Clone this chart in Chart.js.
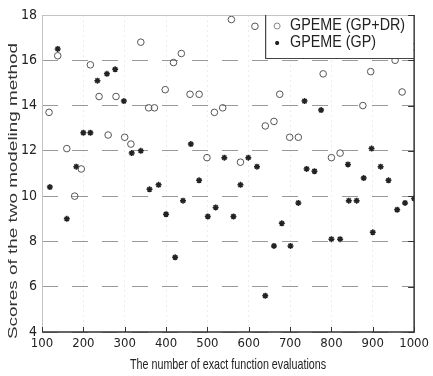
<!DOCTYPE html>
<html>
<head>
<meta charset="utf-8">
<script src="https://cdn.jsdelivr.net/npm/chart.js@4.4.0/dist/chart.umd.min.js"></script>
<style>
  body { margin: 0; background: #fff; }
  #wrap { width: 433px; height: 376px; }
</style>
</head>
<body>
<div id="wrap"><canvas id="chart-scores" width="433" height="376"></canvas></div>
<script>
// scores
var gpdrX = [117, 138, 160, 179, 195, 217, 238, 260, 279, 300, 315, 339, 358, 372, 398, 418, 437, 458, 480, 499, 517, 537, 558, 580, 615, 640, 661, 675, 699, 720, 780, 800, 821, 876, 895, 954, 971, 1000];
var gpdrY = [13.7, 16.2, 12.1, 10.0, 11.2, 15.8, 14.4, 12.7, 14.4, 12.6, 12.3, 16.8, 13.9, 13.9, 14.7, 15.9, 16.3, 14.5, 14.5, 11.7, 13.7, 13.9, 17.8, 11.5, 17.5, 13.1, 13.3, 14.5, 12.6, 12.6, 15.4, 11.7, 11.9, 14.0, 15.5, 16.0, 14.6, 16.6];

var gpX = [119, 138, 160, 183, 200, 217, 234, 257, 277, 298, 317, 339, 360, 382, 400, 422, 441, 460, 480, 501, 520, 541, 563, 580, 599, 620, 640, 661, 680, 701, 720, 735, 740, 759, 775, 800, 821, 840, 842, 861, 878, 897, 900, 919, 938, 959, 978, 1000];
var gpY = [10.4, 16.5, 9.0, 11.3, 12.8, 12.8, 15.1, 15.4, 15.6, 14.2, 11.9, 12.0, 10.3, 10.5, 9.2, 7.3, 9.8, 12.3, 10.7, 9.1, 9.5, 11.7, 9.1, 10.5, 11.7, 11.3, 5.6, 7.8, 8.8, 7.8, 9.7, 14.2, 11.2, 11.1, 13.8, 8.1, 8.1, 11.4, 9.8, 9.8, 10.8, 12.1, 8.4, 11.3, 10.7, 9.4, 9.7, 9.9];

var xTicks = [100, 200, 300, 400, 500, 600, 700, 800, 900, 1000];
var yTicks = [4, 6, 8, 10, 12, 14, 16, 18];

var seriesNames = ['GPEME (GP+DR)', 'GPEME (GP)'];
var xTitle = 'The number of exact function evaluations';
var yTitle = 'Scores of the two modeling method';

var narrow = "'DejaVu Sans Condensed', 'Liberation Sans', Arial, sans-serif";
var plain = "'Liberation Sans', Arial, sans-serif";

function toPoints(xs, ys) {
  var out = [];
  for (var i = 0; i < xs.length; i++) out.push({ x: xs[i], y: ys[i] });
  return out;
}

function drawStar(ctx, x, y, r) {
  ctx.beginPath();
  ctx.moveTo(x - r, y); ctx.lineTo(x + r, y);
  ctx.moveTo(x, y - r); ctx.lineTo(x, y + r);
  var d = r * 0.7;
  ctx.moveTo(x - d, y - d); ctx.lineTo(x + d, y + d);
  ctx.moveTo(x - d, y + d); ctx.lineTo(x + d, y - d);
  ctx.stroke();
}

// text squeezed or stretched to a given width (the scan is not square)
function fitText(ctx, txt, x, y, width, rot) {
  ctx.save();
  var w = ctx.measureText(txt).width;
  ctx.translate(x, y);
  if (rot) ctx.rotate(rot);
  ctx.scale(width / w, 1);
  ctx.fillText(txt, 0, 0);
  ctx.restore();
}

// box round the plot, matlab style ticks on right and bottom
var framePlugin = {
  id: 'frame',
  afterDatasetsDraw: function (chart) {
    var ctx = chart.ctx, a = chart.chartArea;
    var xs = chart.scales.x, ys = chart.scales.y;
    ctx.save();
    ctx.lineWidth = 1;
    ctx.strokeStyle = '#c4c4c4';
    ctx.beginPath();
    ctx.moveTo(a.left + 0.5, a.bottom);
    ctx.lineTo(a.left + 0.5, a.top + 0.5);
    ctx.lineTo(a.right, a.top + 0.5);
    ctx.stroke();

    ctx.strokeStyle = '#333';
    ctx.lineWidth = 1.5;
    ctx.beginPath();
    ctx.moveTo(a.left, a.bottom);
    ctx.lineTo(a.right, a.bottom);
    ctx.lineTo(a.right, a.top);
    ctx.stroke();

    ctx.lineWidth = 1;
    ctx.beginPath();
    yTicks.forEach(function (v) {
      var py = Math.round(ys.getPixelForValue(v)) + 0.5;
      ctx.moveTo(a.right, py); ctx.lineTo(a.right - 6, py);
    });
    xTicks.forEach(function (v) {
      var px = Math.round(xs.getPixelForValue(v)) + 0.5;
      ctx.moveTo(px, a.bottom); ctx.lineTo(px, a.bottom - 5);
    });
    ctx.stroke();
    ctx.restore();
  }
};

// legend box sitting in the top right corner of the plot
var legendPlugin = {
  id: 'boxLegend',
  afterDraw: function (chart) {
    var ctx = chart.ctx, a = chart.chartArea;
    var left = a.right - 149, top = a.top, bottom = a.top + 43;
    ctx.save();
    ctx.fillStyle = '#fff';
    ctx.fillRect(left, top + 1, a.right - left - 1, bottom - top - 1);
    ctx.strokeStyle = '#444';
    ctx.lineWidth = 1.2;
    ctx.beginPath();
    ctx.moveTo(left + 0.5, top);
    ctx.lineTo(left + 0.5, bottom + 0.5);
    ctx.lineTo(a.right, bottom + 0.5);
    ctx.stroke();

    var mx = left + 12;
    ctx.strokeStyle = '#888';
    ctx.lineWidth = 1;
    ctx.beginPath();
    ctx.arc(mx, top + 11, 3, 0, Math.PI * 2);
    ctx.stroke();
    ctx.strokeStyle = '#222';
    ctx.lineWidth = 1.4;
    drawStar(ctx, mx, top + 28, 2);

    ctx.fillStyle = '#222';
    ctx.font = '16px ' + plain;
    ctx.textBaseline = 'middle';
    ctx.textAlign = 'left';
    var sq = 115 / ctx.measureText(seriesNames[0]).width;
    fitText(ctx, seriesNames[0], left + 25, top + 11, ctx.measureText(seriesNames[0]).width * sq);
    fitText(ctx, seriesNames[1], left + 25, top + 28, ctx.measureText(seriesNames[1]).width * sq);
    ctx.restore();
  }
};

// axis titles, drawn by hand so they can be squeezed like the scan
var titlePlugin = {
  id: 'axisTitles',
  afterDraw: function (chart) {
    var ctx = chart.ctx, a = chart.chartArea;
    ctx.save();
    ctx.fillStyle = '#333';
    ctx.textAlign = 'center';
    ctx.textBaseline = 'middle';
    ctx.font = '12px ' + plain;
    fitText(ctx, yTitle, 14, 191, 296, -Math.PI / 2);
    ctx.fillStyle = '#222';
    ctx.font = '15px ' + plain;
    fitText(ctx, xTitle, (a.left + a.right) / 2, 365, 196);
    ctx.restore();
  }
};

var ctx = document.getElementById('chart-scores').getContext('2d');

var grafik = new Chart(ctx, {
  type: 'scatter',
  data: {
    datasets: [{
      label: seriesNames[0],
      data: toPoints(gpdrX, gpdrY),
      pointStyle: 'circle',
      pointRadius: 3.3,
      pointBorderWidth: 1,
      borderColor: '#555',
      backgroundColor: 'rgba(255, 255, 255, 0)'
    }, {
      label: seriesNames[1],
      data: toPoints(gpX, gpY),
      pointStyle: 'star',
      pointRadius: 3,
      pointBorderWidth: 1.5,
      borderColor: '#222',
      backgroundColor: '#222'
    }]
  },
  options: {
    responsive: false,
    animation: false,
    layout: {
      padding: { left: 0, right: 14, top: 15, bottom: 0 }
    },
    plugins: {
      legend: { display: false },
      tooltip: { enabled: false }
    },
    scales: {
      x: {
        type: 'linear',
        min: 100,
        max: 1000,
        afterFit: function (s) { s.height = 44; },
        afterBuildTicks: function (s) {
          s.ticks = xTicks.map(function (v) { return { value: v }; });
        },
        grid: {
          display: true,
          drawTicks: false,
          color: '#ececec',
          lineWidth: 1
        },
        border: { display: false, dash: [2, 3] },
        ticks: {
          padding: 4,
          color: '#222',
          maxRotation: 0,
          callback: function (v) { return String(v); },
          font: { size: 13, family: narrow }
        }
      },
      y: {
        type: 'linear',
        min: 4,
        max: 18,
        afterFit: function (s) { s.width = 42; },
        afterBuildTicks: function (s) {
          s.ticks = yTicks.map(function (v) { return { value: v }; });
        },
        grid: {
          display: true,
          drawTicks: false,
          color: '#9a9a9a',
          lineWidth: 1
        },
        border: { display: false, dash: [16, 14] },
        ticks: {
          padding: 5,
          color: '#222',
          callback: function (v) { return String(v); },
          font: { size: 14, family: narrow }
        }
      }
    }
  },
  plugins: [framePlugin, legendPlugin, titlePlugin]
});
</script>
</body>
</html>
